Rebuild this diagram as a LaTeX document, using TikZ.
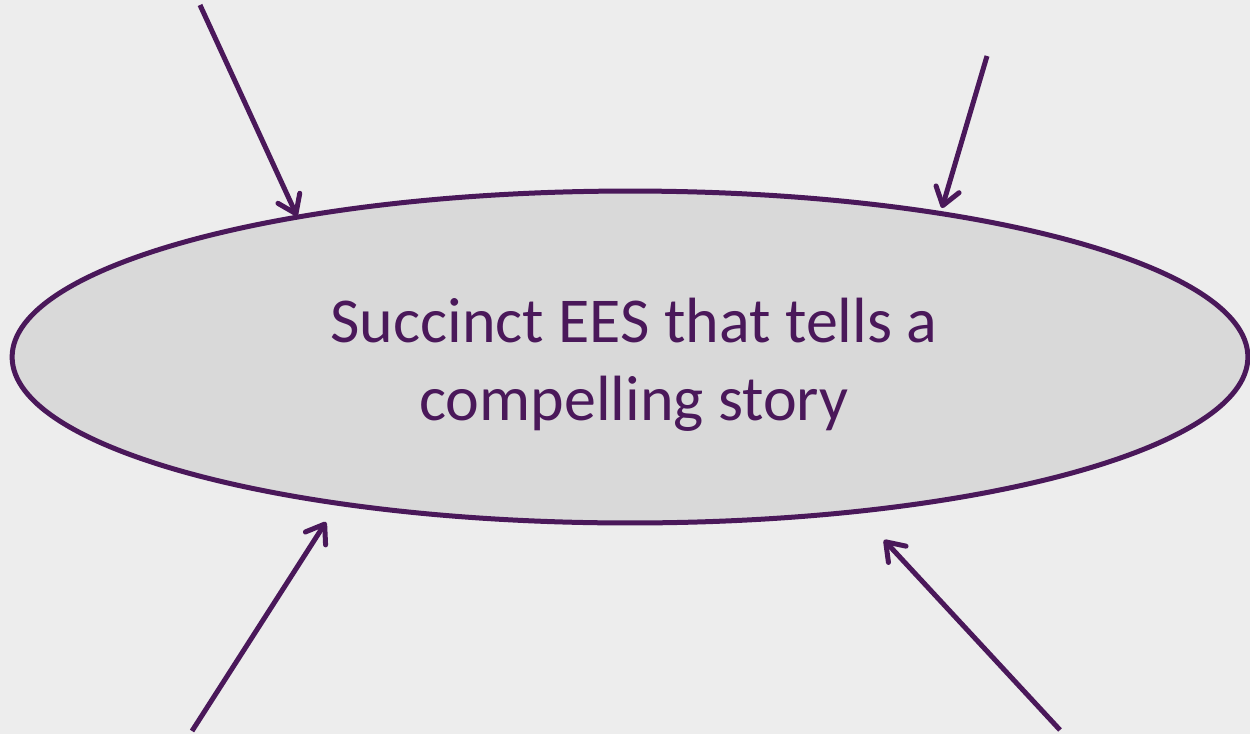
\documentclass[tikz,border=0pt]{standalone}
\usepackage{fontspec}
\setmainfont{Carlito}
\usetikzlibrary{arrows.meta,shapes.geometric,positioning}
\tikzset{>={Straight Barb[length=0.34cm,width=0.48cm,round]}}
\colorlet{background}{black!7}
\colorlet{penColor}{rgb,255:red,74;green,24;blue,90}
\colorlet{fillColor}{black!15}
\tikzset{pointer/.style={->,penColor,line width=0.1cm}}

\begin{document}
\begin{tikzpicture}[x=0.02cm,y=-0.02cm]
\fill[background] (0,0) rectangle (1250,734);
\useasboundingbox (0,0) rectangle (1250,734);
\node[ellipse,draw=penColor,fill=fillColor,line width=0.1cm,inner sep=0pt,
  minimum width=24.72cm,minimum height=6.64cm] (story) at (630,357) {};
\node[text=penColor,align=center,font=\fontsize{36.4}{44.5}\selectfont]
  (storytext) at (634,365) {Succinct EES that tells a\\compelling story};
% free ends of the arrows
\coordinate (nw) at (200,5);
\coordinate (ne) at (987,56);
\coordinate (sw) at (192,731);
\coordinate (se) at (1060,730);
% tips
\coordinate (nwtip) at (297,216);
\coordinate (netip) at (942,208);
\coordinate (swtip) at (326,522);
\coordinate (setip) at (884,540);
\draw[pointer] (nw) -- (nwtip);
\draw[pointer] (ne) -- (netip);
\draw[pointer] (sw) -- (swtip);
\draw[pointer] (se) -- (setip);
\end{tikzpicture}
\end{document}
